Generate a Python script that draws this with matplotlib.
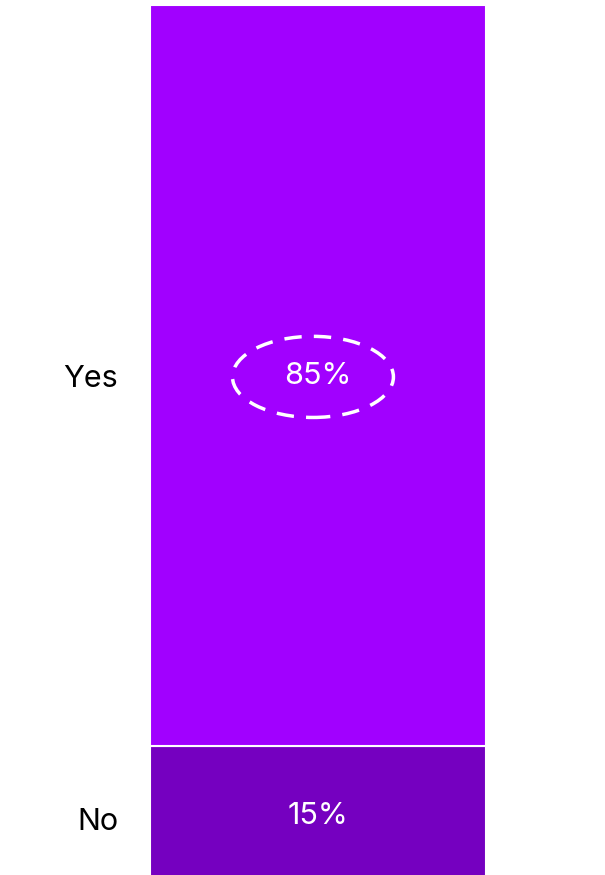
import matplotlib
matplotlib.use("Agg")
import matplotlib.pyplot as plt
import matplotlib.transforms as mtransforms
from matplotlib.patches import Ellipse

plt.rcParams['font.family'] = ['Inter', 'DejaVu Sans']

# answer shares, bottom segment first
answers = ["No", "Yes"]
shares = [15, 85]
colors = ["#7500C0", "#A100FF"]

fig = plt.figure(figsize=(6.05, 8.75), dpi=100)
# bar runs from the top edge down past the bottom of the figure
ax = fig.add_axes([150 / 605, -2 / 875, 336 / 605, 872 / 875])

# the bottom segment is cut off, so its labels sit a little lower
low_shift = mtransforms.ScaledTranslation(0, -0.04, fig.dpi_scale_trans)

bottom = 0
centers = []
for i, (name, val, col) in enumerate(zip(answers, shares, colors)):
    ax.bar(0, val, bottom=bottom, width=1.0, color=col,
           edgecolor="white", linewidth=1.5)
    mid = bottom + val / 2
    centers.append(mid)
    tr = ax.transData + low_shift if i == 0 else ax.transData
    ax.text(0, mid, f"{val}%", ha="center", va="center",
            color="white", fontsize=22, transform=tr)
    bottom += val

# dashed ring around the biggest share
top_mid = centers[1]
ax.add_patch(Ellipse((-0.015, top_mid - 0.15), 0.479, 9.3, fill=False,
                     edgecolor="white", linewidth=2.5,
                     linestyle=(0, (5, 3.5))))

ax.set_xlim(-0.5, 0.5)
ax.set_ylim(0, 100)
ax.set_yticks(centers)
ax.set_yticklabels(answers, fontsize=22)
ax.tick_params(axis="y", length=0, pad=23)
no_lbl = ax.get_yticklabels()[0]
no_lbl.set_transform(no_lbl.get_transform()
                     + mtransforms.ScaledTranslation(0, -0.07, fig.dpi_scale_trans))
ax.set_xticks([])
for s in ax.spines.values():
    s.set_visible(False)

fig.savefig("out.png", dpi=100)
